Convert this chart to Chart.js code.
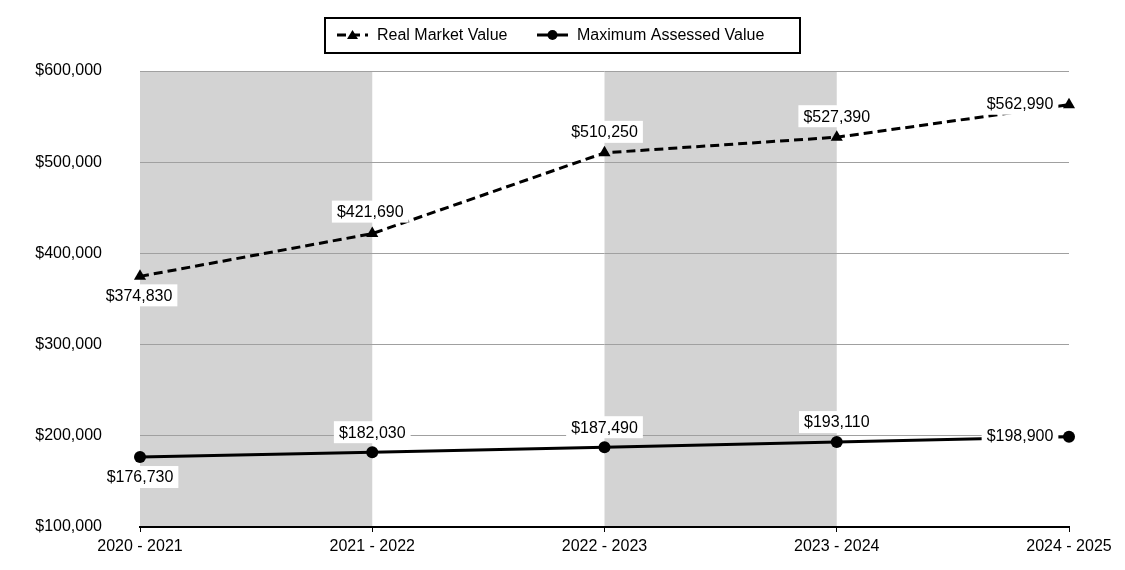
<!DOCTYPE html>
<html>
<head>
<meta charset="utf-8">
<script src="https://cdn.jsdelivr.net/npm/chart.js@4"></script>
<style>
body{margin:0;background:#fff;}
</style>
</head>
<body>
<canvas id="chart" width="1125" height="570"></canvas>
<script>

/* data */

const years = ["2020 - 2021","2021 - 2022","2022 - 2023","2023 - 2024","2024 - 2025"];
const realMarket = [374830,421690,510250,527390,562990];
const maxAssessed = [176730,182030,187490,193110,198900];
const yTicks = [100000,200000,300000,400000,500000,600000];

/* label offsets from the point */

const realOffsets = [[-1,19],[-2,-22],[0,-21],[0,-21],[-49,-1]];
const maxOffsets = [[0,20],[0,-20],[0,-20],[0,-20],[-49,-1]];

const money = v => "$" + v.toLocaleString("en-US");
const FONT = '16px "Liberation Sans", Arial, sans-serif';

/* grey bands behind the lines */

const bands = {
id:"bands",
beforeDraw(chart){
const ctx = chart.ctx, x = chart.scales.x, a = chart.chartArea;
ctx.save();
ctx.fillStyle = "#d3d3d3";
[[0,1],[2,3]].forEach(b => {
const l = x.getPixelForValue(b[0]), r = x.getPixelForValue(b[1]);
ctx.fillRect(l, a.top, r-l, a.bottom-a.top);
});
ctx.restore();
}
};

/* value labels with white boxes */

const labels = {
id:"labels",
afterDatasetsDraw(chart){
const ctx = chart.ctx;
ctx.save();
ctx.font = FONT;
ctx.textAlign = "center";
ctx.textBaseline = "middle";
chart.data.datasets.forEach((ds,i) => {
const offs = i == 0 ? realOffsets : maxOffsets;
chart.getDatasetMeta(i).data.forEach((pt,j) => {
const txt = money(ds.data[j]);
const x = pt.x + offs[j][0], y = pt.y + offs[j][1];
const w = ctx.measureText(txt).width + 10;
ctx.fillStyle = "#fff";
ctx.fillRect(x-w/2, y-11, w, 22);
ctx.fillStyle = "#000";
ctx.fillText(txt, x, y+1);
});
});
ctx.restore();
}
};

/* boxed legend at the top */

const legendBox = {
id:"legendBox",
afterDraw(chart){
const ctx = chart.ctx;
ctx.save();
ctx.strokeStyle = "#000";
ctx.lineWidth = 2;
ctx.strokeRect(325, 18, 475, 35);
ctx.font = FONT;
ctx.textBaseline = "middle";
ctx.fillStyle = "#000";
const starts = [337, 537];
chart.data.datasets.forEach((ds,i) => {
const x = starts[i], y = 35;
ctx.setLineDash(ds.borderDash || []);
ctx.lineWidth = 3;
ctx.beginPath();
ctx.moveTo(x, y);
ctx.lineTo(x+31, y);
ctx.stroke();
ctx.setLineDash([]);
ctx.beginPath();
if(ds.pointStyle == "triangle"){
ctx.moveTo(x+15.5, y-5);
ctx.lineTo(x+21, y+4);
ctx.lineTo(x+10, y+4);
ctx.closePath();
} else {
ctx.arc(x+15.5, y, 5, 0, Math.PI*2);
}
ctx.fill();
ctx.fillText(ds.label, x+40, y+1);
});
ctx.restore();
}
};

new Chart(document.getElementById("chart"),{

type:"line",

data:{
labels:years,
datasets:[{
label:"Real Market Value",
data:realMarket,
borderColor:"#000",
backgroundColor:"#000",
borderWidth:3,
borderDash:[9,5],
pointStyle:"triangle",
pointRadius:7,
pointBorderWidth:0,
tension:0
},{
label:"Maximum Assessed Value",
data:maxAssessed,
borderColor:"#000",
backgroundColor:"#000",
borderWidth:3,
pointStyle:"circle",
pointRadius:6,
pointBorderWidth:0,
tension:0
}]
},

options:{
responsive:false,
animation:false,
devicePixelRatio:1,
layout:{padding:{top:71,right:56,left:0,bottom:0}},
plugins:{legend:{display:false},tooltip:{enabled:false}},
scales:{
x:{
offset:false,
grid:{drawOnChartArea:false,tickLength:5,color:"#000"},
border:{color:"#000",width:2},
ticks:{color:"#000",font:{family:'"Liberation Sans", Arial',size:16},padding:5,maxRotation:0},
afterFit(s){s.height = 43;}
},
y:{
min:100000,
max:600000,
afterBuildTicks(s){s.ticks = yTicks.map(v => ({value:v}));},
grid:{color:"#a0a0a0",lineWidth:1,drawTicks:false},
border:{display:false},
ticks:{color:"#000",font:{family:'"Liberation Sans", Arial',size:16},padding:38,callback:v => money(v)},
afterFit(s){s.width = 140; s.paddingTop = 0; s.paddingBottom = 0;}
}
}
},

plugins:[bands,labels,legendBox]

});

</script>
</body>
</html>
